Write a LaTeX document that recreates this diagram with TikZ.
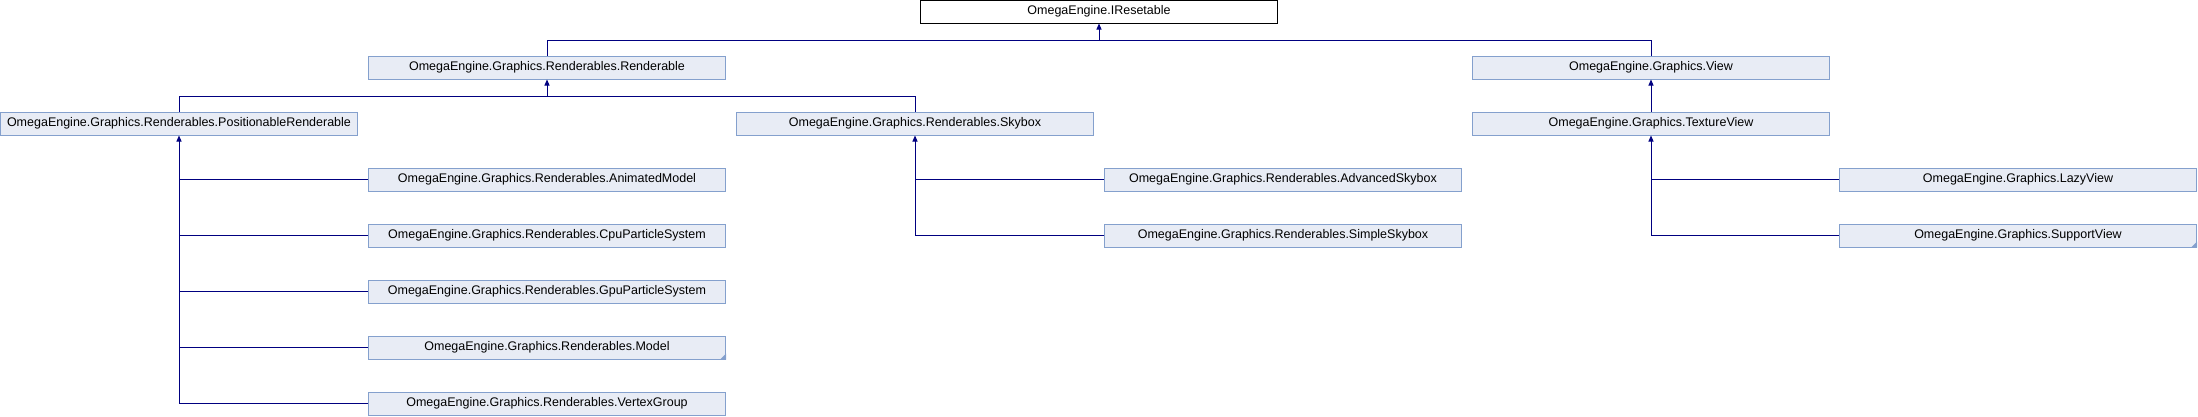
\documentclass[tikz,border=0pt]{standalone}
\usepackage{fontspec}
\setmainfont{Liberation Sans}
\usetikzlibrary{arrows.meta}

\definecolor{boxfill}{RGB}{232,236,245}
\definecolor{boxline}{RGB}{132,160,205}
\definecolor{edgeblue}{RGB}{0,0,128}

\tikzset{
	cls/.style={draw=boxline,fill=boxfill,line width=1pt,minimum width=357pt,minimum height=23pt,inner sep=0pt,font=\fontsize{12.5}{15}\selectfont},
	link/.style={draw=edgeblue,line width=1pt},
	inh/.style={link,-{Triangle[width=5pt,length=6pt]}},
	cut/.style={fill=boxline}
}

\begin{document}
\begin{tikzpicture}[x=1pt,y=-1pt]
	\useasboundingbox (0,0) rectangle (2198,416);

	\node[cls,fill=white,draw=black] (ireset) at (1099,11.5) {OmegaEngine.IResetable};
	\node[cls] (renderable) at (547,67.5) {OmegaEngine.Graphics.Renderables.Renderable};
	\node[cls] (view) at (1651,67.5) {OmegaEngine.Graphics.View};
	\node[cls] (posrend) at (179,123.5) {OmegaEngine.Graphics.Renderables.PositionableRenderable};
	\node[cls] (skybox) at (915,123.5) {OmegaEngine.Graphics.Renderables.Skybox};
	\node[cls] (texview) at (1651,123.5) {OmegaEngine.Graphics.TextureView};
	\foreach \n/\t [count=\i] in {animmodel/AnimatedModel,cpupart/CpuParticleSystem,gpupart/GpuParticleSystem,model/Model,vertgroup/VertexGroup}
		\node[cls] (\n) at (547,123.5+56*\i) {OmegaEngine.Graphics.Renderables.\t};
	\foreach \n/\t [count=\i] in {advsky/AdvancedSkybox,simplesky/SimpleSkybox}
		\node[cls] (\n) at (1283,123.5+56*\i) {OmegaEngine.Graphics.Renderables.\t};
	\foreach \n/\t [count=\i] in {lazyview/LazyView,suppview/SupportView}
		\node[cls] (\n) at (2018,123.5+56*\i) {OmegaEngine.Graphics.\t};

	% truncated subtrees
	\foreach \n in {model,suppview}
		\fill[cut] ([xshift=-6pt]\n.south east) -- (\n.south east) -- ([yshift=6pt]\n.south east) -- cycle;

	% IResetable
	\coordinate (jtop) at (1099,40);
	\draw[link] (renderable.north) -- (renderable.north |- jtop) -- (view.north |- jtop) -- (view.north);
	\draw[inh] (jtop) -- (ireset.south);

	% Renderable
	\coordinate (jrend) at (547,96);
	\draw[link] (posrend.north) -- (posrend.north |- jrend) -- (skybox.north |- jrend) -- (skybox.north);
	\draw[inh] (jrend) -- (renderable.south);

	% View
	\draw[inh] (texview.north) -- (view.south);

	% PositionableRenderable
	\draw[inh] (posrend.south |- vertgroup.west) -- (posrend.south);
	\foreach \n in {animmodel,cpupart,gpupart,model,vertgroup}
		\draw[link] (\n.west) -- (posrend.south |- \n.west);

	% Skybox
	\draw[inh] (skybox.south |- simplesky.west) -- (skybox.south);
	\foreach \n in {advsky,simplesky}
		\draw[link] (\n.west) -- (skybox.south |- \n.west);

	% TextureView
	\draw[inh] (texview.south |- suppview.west) -- (texview.south);
	\foreach \n in {lazyview,suppview}
		\draw[link] (\n.west) -- (texview.south |- \n.west);
\end{tikzpicture}
\end{document}
